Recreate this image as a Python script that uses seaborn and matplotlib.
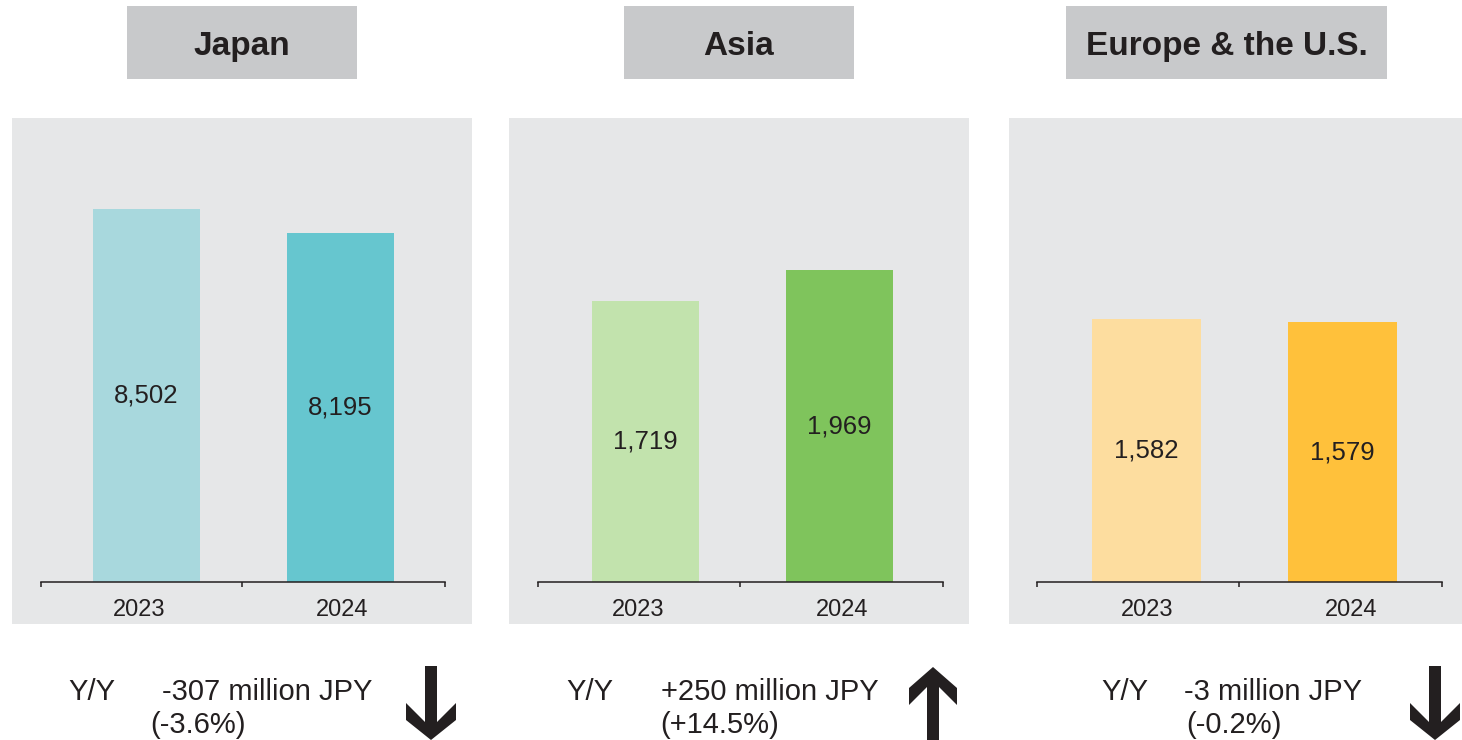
import matplotlib
matplotlib.use("Agg")
import matplotlib.pyplot as plt
from matplotlib.patches import Rectangle, Polygon
import pandas as pd
import seaborn as sns

# Net sales by region (million JPY)
regions = ["Japan", "Asia", "Europe & the U.S."]
years = ["2023", "2024"]
sales_2023 = [8502, 1719, 1582]
sales_2024 = [8195, 1969, 1579]
palettes = [["#a8d8dd", "#66c6cf"],
            ["#c2e3ad", "#7fc45c"],
            ["#fddd9f", "#ffc13b"]]

# each panel keeps its own value-axis range
y_limits = [(3731, 9666), (-547, 3195), (1290, 1806)]

sns.set_theme(style="white")
plt.rcParams["font.family"] = ["Liberation Sans", "DejaVu Sans"]

DARK = "#231f20"
PANEL = "#e6e7e8"
TITLE_BG = "#c8c9cb"
W, H = 1462, 740

fig = plt.figure(figsize=(W / 100, H / 100), dpi=100)
fig.patch.set_facecolor("white")

# pixel-space layers: background panels below, annotations above
bg = fig.add_axes([0, 0, 1, 1], zorder=0)
top = fig.add_axes([0, 0, 1, 1], zorder=3)
for lay in (bg, top):
    lay.set_xlim(0, W)
    lay.set_ylim(H, 0)
    lay.axis("off")
top.patch.set_visible(False)

panel_x = [(12, 472), (509, 969), (1009, 1469)]
axis_x = [(40.7, 445), (537.7, 943), (1037, 1442)]
x_limits = [(-0.545, 1.539), (-0.556, 1.534), (-0.559, 1.508)]
mid_tick = [0.495, 0.487, 0.472]
label_pos = [(-0.04, 1.01), (-0.039, 1.013), (0.003, 1.043)]
title_box = [(127, 357), (624, 854), (1066, 1387)]
yy_x = [(68, 161.7, 150), (566.7, 660.7, 660.7), (1101.7, 1184, 1186.7)]
arrow_cx = [431, 933, 1435]
AX_BOTTOM, AX_TOP = 582, 118


def arrow(cx, down):
    if down:
        pts = [(cx - 6, 666), (cx + 6, 666), (cx + 6, 722), (cx + 25, 703),
               (cx + 25, 720), (cx, 740), (cx - 25, 720), (cx - 25, 703),
               (cx - 6, 722)]
    else:
        pts = [(cx, 667), (cx + 24, 688), (cx + 24, 705), (cx + 6, 687),
               (cx + 6, 745), (cx - 6, 745), (cx - 6, 687), (cx - 24, 705),
               (cx - 24, 688)]
    top.add_patch(Polygon(pts, closed=True, facecolor=DARK, edgecolor="none"))


for i, region in enumerate(regions):
    vals = [sales_2023[i], sales_2024[i]]
    df = pd.DataFrame({"year": years, "sales": vals})
    floor, ceil = y_limits[i]

    # grey panel and title box
    px0, px1 = panel_x[i]
    bg.add_patch(Rectangle((px0, AX_TOP), px1 - px0, 624 - AX_TOP,
                           facecolor=PANEL, edgecolor="none"))
    tx0, tx1 = title_box[i]
    top.add_patch(Rectangle((tx0, 6), tx1 - tx0, 72.5,
                            facecolor=TITLE_BG, edgecolor="none"))
    top.text((tx0 + tx1) / 2, 55, region, ha="center", va="baseline",
             fontsize=24, fontweight="bold", color=DARK)

    ax0, ax1 = axis_x[i]
    ax = fig.add_axes([ax0 / W, (H - AX_BOTTOM) / H, (ax1 - ax0) / W,
                       (AX_BOTTOM - AX_TOP) / H], zorder=1)
    ax.patch.set_visible(False)
    sns.barplot(data=df, x="year", y="sales", hue="year", palette=palettes[i],
                width=0.555, saturation=1, legend=False, ax=ax)
    ax.set_ylim(floor, ceil)
    # bars rise from the panel's axis line
    for p, v in zip(ax.patches, vals):
        p.set_y(floor)
        p.set_height(v - floor)
        p.set_edgecolor("none")
    for j, v in enumerate(vals):
        ax.text(j, (floor + v) / 2, f"{v:,}", ha="center", va="center",
                fontsize=18.5, color=DARK)

    xl = x_limits[i]
    ax.set_xlim(xl)
    ax.set_xticks([xl[0], mid_tick[i], xl[1]])
    ax.set_xticklabels([])
    ax.set_xticks(label_pos[i], minor=True)
    ax.set_xticklabels(years, minor=True)
    ax.tick_params(axis="x", which="major", bottom=True, direction="out",
                   length=3.6, width=1.1, color=DARK)
    ax.tick_params(axis="x", which="minor", bottom=True, length=0, pad=12,
                   labelsize=17, labelcolor=DARK)
    ax.set_yticks([])
    ax.set_xlabel("")
    ax.set_ylabel("")
    for s in ("left", "top", "right"):
        ax.spines[s].set_visible(False)
    ax.spines["bottom"].set_color(DARK)
    ax.spines["bottom"].set_linewidth(1.1)

    # year-over-year change
    diff = vals[1] - vals[0]
    pct = diff / vals[0] * 100
    x_yy, x_chg, x_pct = yy_x[i]
    top.text(x_yy, 700, "Y/Y", ha="left", va="baseline", fontsize=21, color=DARK)
    top.text(x_chg, 700, f"{diff:+,d} million JPY", ha="left", va="baseline",
             fontsize=21, color=DARK)
    top.text(x_pct, 733, f"({pct:+.1f}%)", ha="left", va="baseline",
             fontsize=21, color=DARK)
    arrow(arrow_cx[i], diff < 0)

fig.savefig("out.png", dpi=100, facecolor="white")
